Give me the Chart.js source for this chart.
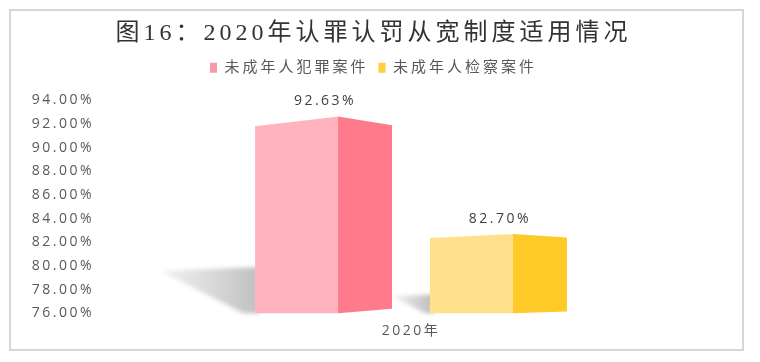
<!DOCTYPE html>
<html><head><meta charset="utf-8">
<script src="https://cdn.jsdelivr.net/npm/chart.js@4"></script>
<style>html,body{margin:0;padding:0;background:#fff;} canvas{display:block}</style>
</head><body>
<canvas id="c" width="760" height="362" style="width:760px;height:362px"></canvas>
<script>
const categories = ['2020年'];
const seriesNames = ['未成年人犯罪案件', '未成年人检察案件'];
const juvenileCrimeCases = [92.63];
const juvenileProcuratorateCases = [82.70];
const yMin = 76, yMax = 94, yStep = 2;
const chartTitle = '图16：2020年认罪认罚从宽制度适用情况';

const faceColors = [
  {front: '#FFB3BF', side: '#FF7B8B', legend: '#F99AA8'},
  {front: '#FFE18C', side: '#FFC928', legend: '#FFD03E'}
];
const SANS = '"Open Sans", "Noto Sans CJK SC", sans-serif';

// widen text a little (the reference is horizontally stretched)
(function () {
  const proto = CanvasRenderingContext2D.prototype;
  const oFill = proto.fillText, oMeasure = proto.measureText;
  function ls(ctx) {
    if (!('letterSpacing' in ctx)) return;
    const m = /(\d+(?:\.\d+)?)px/.exec(ctx.font);
    const s = m ? parseFloat(m[1]) : 12;
    ctx.letterSpacing = (s >= 20 ? 4 : (s >= 15 ? 3 : 2.5)) + 'px';
  }
  proto.fillText = function () { ls(this); return oFill.apply(this, arguments); };
  proto.measureText = function () { ls(this); return oMeasure.apply(this, arguments); };
})();

const spacerBox = {
  position: 'top', weight: 500, fullSize: true, options: {},
  top: 0, left: 0, right: 0, bottom: 0, width: 0, height: 0,
  isHorizontal() { return true; },
  update(maxWidth) { this.width = maxWidth; this.height = 15; return this.height; },
  draw() {}
};

const framePlugin = {
  id: 'frame',
  beforeInit(chart) { if (Chart.layouts) Chart.layouts.addBox(chart, spacerBox); },
  beforeDraw(chart) {
    const ctx = chart.ctx;
    ctx.save();
    ctx.fillStyle = '#fff';
    ctx.fillRect(0, 0, chart.width, chart.height);
    ctx.strokeStyle = '#d6d6d6';
    ctx.lineWidth = 2;
    ctx.strokeRect(10, 10, 733, 340);
    ctx.restore();
  }
};

function geom(chart, el) {
  const {x, y, width} = el.getProps(['x', 'y', 'width'], true);
  const ys = chart.scales.y;
  const base = ys.getPixelForValue(ys.min);
  return {x, y, width, base, h: base - y, L: x - width / 2, R: x + width / 2};
}

function drawShadow(chart, el) {
  const ctx = chart.ctx;
  const {base, h, L} = geom(chart, el);
  ctx.save();
  ctx.filter = 'blur(2px)';
  const g = ctx.createLinearGradient(L - 0.48 * h, 0, L, 0);
  g.addColorStop(0, 'rgba(205,205,205,0.3)');
  g.addColorStop(1, 'rgba(190,190,190,0.95)');
  ctx.fillStyle = g;
  ctx.beginPath();
  ctx.moveTo(L - 0.48 * h, base - 0.215 * h);
  ctx.lineTo(L + 4, base - 0.235 * h);
  ctx.lineTo(L + 4, base);
  ctx.lineTo(L - 0.06 * h, base);
  ctx.closePath();
  ctx.fill();
  ctx.restore();
}

function drawBox(chart, el, col) {
  const ctx = chart.ctx;
  const {y, width, base, h, L, R} = geom(chart, el);
  const C = L + width * 0.606;
  ctx.save();
  ctx.fillStyle = col.front;
  ctx.beginPath();
  ctx.moveTo(L, y + 0.05 * h);
  ctx.lineTo(C + 0.5, y);
  ctx.lineTo(C + 0.5, base);
  ctx.lineTo(L, base);
  ctx.closePath();
  ctx.fill();
  ctx.fillStyle = col.side;
  ctx.beginPath();
  ctx.moveTo(C, y);
  ctx.lineTo(R, y + 0.045 * h);
  ctx.lineTo(R, base - 0.022 * h);
  ctx.lineTo(C, base);
  ctx.closePath();
  ctx.fill();
  ctx.restore();
}

function drawLabel(chart, el, v) {
  const ctx = chart.ctx;
  const {x, y} = geom(chart, el);
  ctx.save();
  ctx.font = '14px ' + SANS;
  ctx.fillStyle = '#404040';
  ctx.textAlign = 'center';
  ctx.textBaseline = 'middle';
  ctx.fillText(v.toFixed(2) + '%', x + 1.5, y - 15);
  ctx.restore();
}

const bar3dPlugin = {
  id: 'bar3d',
  beforeDatasetsDraw(chart) {
    const metas = chart.getSortedVisibleDatasetMetas();
    metas.forEach(m => m.data.forEach(el => drawShadow(chart, el)));
    metas.forEach(m => m.data.forEach(el => drawBox(chart, el, faceColors[m.index])));
    metas.forEach(m => m.data.forEach((el, i) => drawLabel(chart, el, chart.data.datasets[m.index].data[i])));
    return false;
  }
};

new Chart(document.getElementById('c'), {
  type: 'bar',
  data: {
    labels: categories,
    datasets: [
      {label: seriesNames[0], data: juvenileCrimeCases, backgroundColor: faceColors[0].legend, borderWidth: 0},
      {label: seriesNames[1], data: juvenileProcuratorateCases, backgroundColor: faceColors[1].legend, borderWidth: 0}
    ]
  },
  options: {
    responsive: false,
    animation: false,
    devicePixelRatio: 1,
    datasets: {bar: {barPercentage: 0.783, categoryPercentage: 0.557}},
    layout: {padding: {top: 4, left: 22, right: 35, bottom: 14}},
    plugins: {
      title: {
        display: true, text: chartTitle, color: '#333333',
        font: {size: 24, family: '"Liberation Serif", "Noto Sans CJK SC", serif', weight: 'normal'},
        padding: {top: 15, bottom: 2.5}
      },
      legend: {
        position: 'top',
        labels: {boxWidth: 7, boxHeight: 10, padding: 10, color: '#595959', font: {size: 15, family: SANS}}
      },
      tooltip: {enabled: false}
    },
    scales: {
      x: {
        grid: {display: false, drawTicks: false}, border: {display: false},
        ticks: {color: '#595959', font: {size: 14, family: SANS}, padding: 9}
      },
      y: {
        min: yMin, max: yMax,
        grid: {display: false, drawTicks: false}, border: {display: false},
        ticks: {stepSize: yStep, color: '#595959', font: {size: 14, family: SANS}, padding: 3,
          callback: v => Number(v).toFixed(2) + '%'},
        afterFit(s) { s.width = 75; }
      }
    }
  },
  plugins: [framePlugin, bar3dPlugin]
});
</script>
</body></html>
